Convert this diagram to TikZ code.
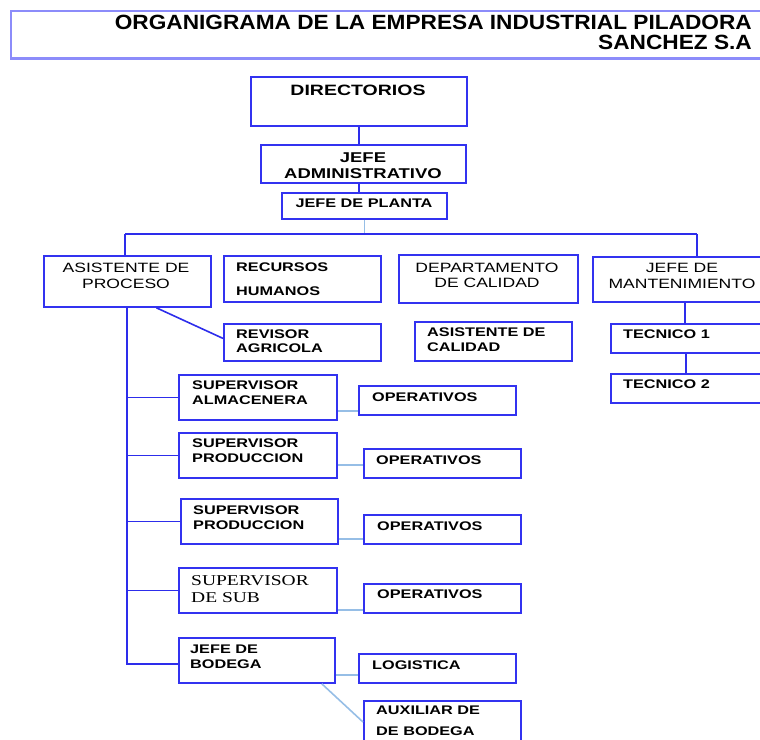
\documentclass[tikz,border=0pt]{standalone}
\usepackage{fontspec}
\usetikzlibrary{calc}
\newfontfamily\sansB{Liberation Sans}[FakeStretch=1.3]
\newfontfamily\sansT{Liberation Sans}[FakeStretch=1.1]
\newfontfamily\serifR{Liberation Serif}[FakeStretch=1.3]
\definecolor{boxblue}{RGB}{50,50,240}
\definecolor{lineblue}{RGB}{45,45,235}
\definecolor{lightblue}{RGB}{150,190,230}
\definecolor{titleblue}{RGB}{140,140,250}
\tikzset{
  box/.style={draw=boxblue, line width=1.8pt, rectangle, inner sep=0pt, anchor=north west},
  conn/.style={draw=lineblue, line width=1.6pt},
  lconn/.style={draw=lightblue, line width=1.6pt},
  lbl/.style={inner sep=0pt, text=black, align=left, anchor=base west},
  clbl/.style={inner sep=0pt, text=black, align=center, anchor=base},
  fb/.style={font=\sansB\bfseries\fontsize{12.5}{#1}\selectfont},
  fb/.default=15,
  fr/.style={font=\sansB\fontsize{13.5}{#1}\selectfont},
  fr/.default=16,
}
\newcommand\bx[6][]{\node[box, #1, minimum width={(#5-#3)*1pt}, minimum height={(#6-#4)*1pt}] (#2) at (#3,#4) {};}
\begin{document}
\begin{tikzpicture}[x=1pt, y=-1pt]
\useasboundingbox (0,0) rectangle (760,739);
\clip (0,0) rectangle (760,739);
% title
\bx[draw=titleblue, line width=1.5pt]{title}{10}{10}{800}{57}
\draw[titleblue, line width=2.5pt] (title.south west) -- (title.south east);
\node[inner sep=0pt, anchor=base east, font=\sansT\bfseries\fontsize{20.6}{20}\selectfont] (tl1) at (752,29) {ORGANIGRAMA DE LA EMPRESA INDUSTRIAL PILADORA};
\node[inner sep=0pt, anchor=base east, font=\sansT\bfseries\fontsize{20.6}{20}\selectfont] (tl2) at (752,49) {SANCHEZ S.A};
% boxes
\bx{dir}{250}{76}{466}{125}
\bx{adm}{260}{144}{465}{182}
\bx{pla}{281}{192}{446}{218}
\bx{asp}{43}{255}{210}{306}
\bx{rh}{223}{255}{380}{301}
\bx{rev}{223}{323}{380}{360}
\bx{dep}{398}{254}{577}{302}
\bx{asc}{414}{321}{571}{360}
\bx{man}{592}{256}{800}{301}
\bx{tc1}{610}{323}{800}{352}
\bx{tc2}{610}{373}{800}{402}
\bx{sa}{178}{374}{336}{419}
\bx{op1}{358}{385}{515}{414}
\bx{sp1}{178}{432}{336}{477}
\bx{op2}{363}{448}{520}{477}
\bx{sp2}{180}{498}{337}{543}
\bx{op3}{363}{514}{520}{543}
\bx{ss}{178}{567}{336}{612}
\bx{op4}{363}{583}{520}{612}
\bx{jb}{178}{637}{334}{682}
\bx{log}{358}{653}{515}{682}
\bx{aux}{363}{700}{520}{770}
% texts (base anchor = baseline of last line)
\node[clbl, font=\sansB\bfseries\fontsize{15}{16}\selectfont] (dirT) at (358,95) {DIRECTORIOS};
\node[clbl, font=\sansB\bfseries\fontsize{14.2}{16}\selectfont] (admT) at (363,178) {JEFE\\ADMINISTRATIVO};
\node[clbl, fb] (plaT) at (364,207) {JEFE DE PLANTA};
\node[clbl, fr] (aspT) at (126,288) {ASISTENTE DE\\PROCESO};
\node[lbl, fb=24] (rhT) at (236,295) {RECURSOS\\HUMANOS};
\node[lbl, fb=14] (revT) at (236,352) {REVISOR\\AGRICOLA};
\node[clbl, fr=15] (depT) at (487,287) {DEPARTAMENTO\\DE CALIDAD};
\node[lbl, fb] (ascT) at (427,351) {ASISTENTE DE\\CALIDAD};
\node[clbl, fr] (manT) at (682,288) {JEFE DE\\MANTENIMIENTO};
\node[lbl, fb] (tc1T) at (623,338) {TECNICO 1};
\node[lbl, fb] (tc2T) at (623,388) {TECNICO 2};
\node[lbl, fb] (saT) at (192,404) {SUPERVISOR\\ALMACENERA};
\node[lbl, fb] (op1T) at (372,401) {OPERATIVOS};
\node[lbl, fb] (sp1T) at (192,462) {SUPERVISOR\\PRODUCCION};
\node[lbl, fb] (op2T) at (376,464) {OPERATIVOS};
\node[lbl, fb] (sp2T) at (193,529) {SUPERVISOR\\PRODUCCION};
\node[lbl, fb] (op3T) at (377,530) {OPERATIVOS};
\node[lbl, font=\serifR\fontsize{15}{17}\selectfont] (ssT) at (191,602) {SUPERVISOR\\DE SUB};
\node[lbl, fb] (op4T) at (377,598) {OPERATIVOS};
\node[lbl, fb] (jbT) at (190,668) {JEFE DE\\BODEGA};
\node[lbl, fb] (logT) at (372,669) {LOGISTICA};
\node[lbl, fb=21] (auxT) at (376,735) {AUXILIAR DE\\DE BODEGA};
% connectors
\coordinate (busL) at (125,234);
\coordinate (busR) at (697,234);
\coordinate (mb) at (127,664);
\draw[conn] (dir.south) -- (dir.south |- adm.north);
\draw[conn] (adm.south -| dir.south) -- (pla.north -| dir.south);
\draw[lconn] (pla.south) -- (pla.south |- busL);
\draw[conn] (busL) -- (busR);
\draw[conn] (busL) -- (busL |- asp.north);
\draw[conn] ($(rh.north)+(-3,0)$ |- busL) -- ($(rh.north)+(-3,0)$);
\draw[conn] ($(dep.north)+(-10,0)$ |- busL) -- ($(dep.north)+(-10,0)$);
\draw[conn] (busR) -- (busR |- man.north);
\draw[conn] ($(asp.south)+(29,0)$) -- ($(rev.west)+(0,-4)$);
\draw[conn] ($(rh.south)+(-11,0)$) -- ($(rh.south)+(-11,0)$ |- rev.north);
\draw[conn] ($(dep.south)+(-10,0)$) -- ($(dep.south)+(-10,0)$ |- asc.north);
\draw[conn] (tc1.north -| 685,0) -- (man.south -| 685,0);
\draw[conn] (tc2.north -| 686,0) -- (tc1.south -| 686,0);
\draw[conn] (asp.south -| mb) -- (mb) -- (mb -| jb.west);
\draw[conn] (sa.west -| mb) -- (sa.west);
\draw[conn] (sp1.west -| mb) -- (sp1.west);
\draw[conn] (sp2.west -| mb) -- (sp2.west);
\draw[conn] (ss.west -| mb) -- (ss.west);
\draw[lconn] ($(sa.south east)+(0,-10)$) -- ($(op1.south west)+(0,-5)$);
\draw[lconn] ($(sp1.south east)+(0,-14)$) -- ($(op2.south west)+(0,-14)$);
\draw[lconn] ($(sp2.south east)+(0,-6)$) -- ($(op3.south west)+(0,-6)$);
\draw[lconn, line width=2.2pt] ($(ss.south east)+(0,-4)$) -- ($(op4.south west)+(0,-4)$);
\draw[lconn] ($(jb.south east)+(0,-9)$) -- ($(log.south west)+(0,-9)$);
\draw[lconn] ($(jb.south east)+(-14,0)$) -- ($(aux.north west)+(0,22)$);
\end{tikzpicture}
\end{document}
